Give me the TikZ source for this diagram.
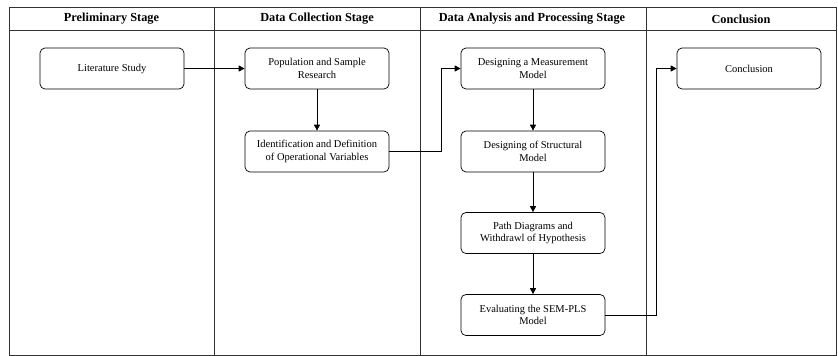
\documentclass[tikz,border=0pt]{standalone}
\usepackage{fontspec}
\setmainfont{Liberation Serif}
\usetikzlibrary{arrows.meta}
\begin{document}
\begin{tikzpicture}[x=1pt,y=-1pt,
  frame/.style={draw=black!80,line width=0.8pt},
  stepbox/.style={draw,rounded corners=5pt,line width=0.7pt,minimum width=144pt,minimum height=41pt,align=center,inner sep=1pt,font=\fontsize{10.5}{12.5}\selectfont},
  head/.style={font=\bfseries\fontsize{12.3}{14}\selectfont},
  conn/.style={line width=0.7pt,-{Triangle[length=6pt,width=6pt]}}]
\useasboundingbox (0,0) rectangle (838,356);
% frame
\draw[frame] (9,7) rectangle (836,355);
\draw[frame] (9,30) -- (836,30);
\draw[frame] (214,7) -- (214,355);
\draw[frame] (420,7) -- (420,355);
\draw[frame] (646,7) -- (646,355);
% headers
\node[head] (h1) at (111.5,19) {Preliminary Stage};
\node[head] (h2) at (317,19) {Data Collection Stage};
\node[head] (h3) at (532,19) {Data Analysis and Processing Stage};
\node[head] (h4) at (741,19) {Conclusion};
% boxes
\node[stepbox] (lit) at (112,68.5) {Literature Study};
\node[stepbox] (pop) at (317,68.5) {Population and Sample\\Research};
\node[stepbox] (idf) at (317,151.5) {Identification and Definition\\of Operational Variables};
\node[stepbox] (mea) at (533,68.5) {Designing a Measurement\\Model};
\node[stepbox] (str) at (533,151.5) {Designing of Structural\\Model};
\node[stepbox] (pat) at (533,233) {Path Diagrams and\\Withdrawl of Hypothesis};
\node[stepbox] (eva) at (533,315) {Evaluating the SEM-PLS\\Model};
\node[stepbox] (con) at (749,68.5) {Conclusion};
% connectors
\coordinate (c1) at (441,151.5);
\coordinate (c2) at (441,68.5);
\coordinate (c3) at (656,315);
\coordinate (c4) at (656,68.5);
\draw[conn] (lit) -- (pop);
\draw[conn] (pop) -- (idf);
\draw[conn] (idf.east) -- (c1) -- (c2) -- (mea.west);
\draw[conn] (mea) -- (str);
\draw[conn] (str) -- (pat);
\draw[conn] (pat) -- (eva);
\draw[conn] (eva.east) -- (c3) -- (c4) -- (con.west);
\end{tikzpicture}
\end{document}
